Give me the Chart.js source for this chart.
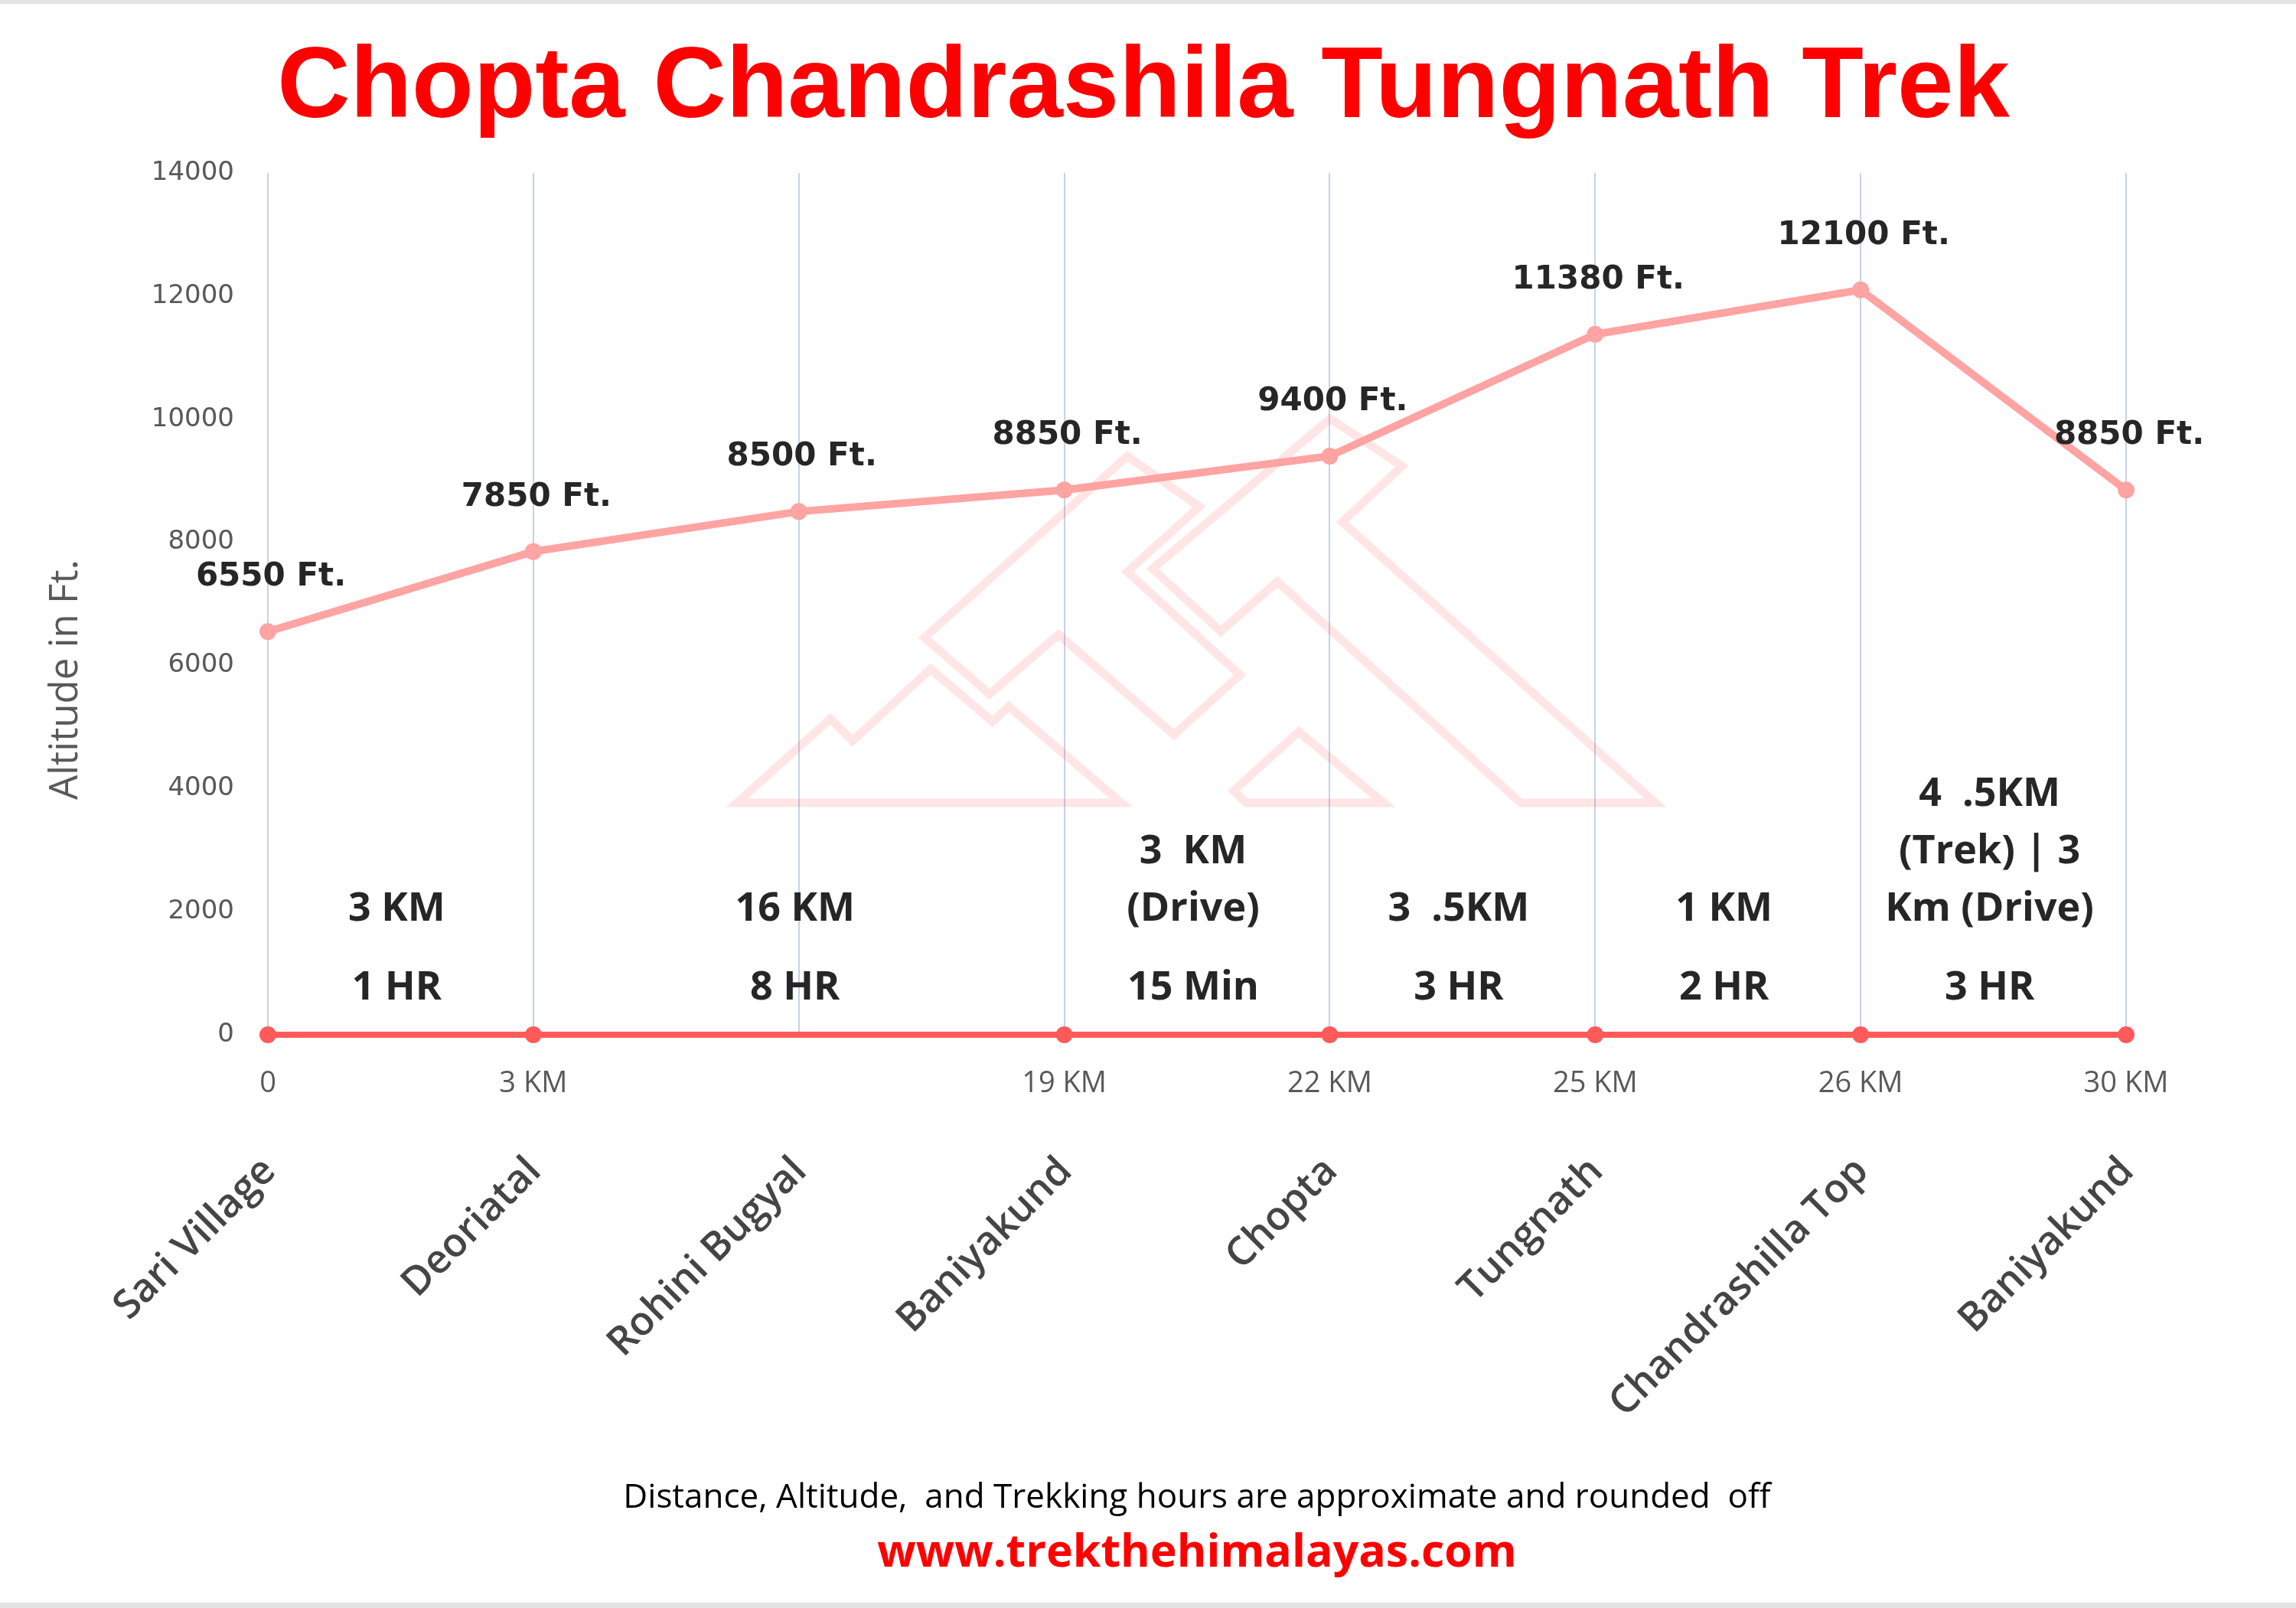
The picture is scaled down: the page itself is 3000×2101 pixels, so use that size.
<!DOCTYPE html>
<html>
<head>
<meta charset="utf-8">
<title>Chopta Chandrashila Tungnath Trek</title>
<script src="https://cdn.jsdelivr.net/npm/chart.js@4.4.1/dist/chart.umd.min.js"></script>
<style>
  html, body { margin: 0; padding: 0; background: #fff; }
  canvas { display: block; }
</style>
</head>
<body>
<canvas id="trekChart" width="3000" height="2101"></canvas>
<script>
// stops along the trek
const places = ['Sari Village', 'Deoriatal', 'Rohini Bugyal', 'Baniyakund', 'Chopta', 'Tungnath', 'Chandrashilla Top', 'Baniyakund'];
const distances = ['0', '3 KM', '', '19 KM', '22 KM', '25 KM', '26 KM', '30 KM'];
const altitudes = [6550, 7850, 8500, 8850, 9400, 11380, 12100, 8850];
const baseline = [0, 0, 0, 0, 0, 0, 0, 0];
const baselineStop = [true, true, false, true, true, true, true, true];

// y axis
const yMin = 0;
const yMax = 14000;
const yStep = 2000;

// notes written between two stops
const segmentFrom = [0, 1, 3, 4, 5, 6];
const segmentTo = [1, 3, 4, 5, 6, 7];
const segmentNotes = [
    ['3 KM', '1 HR'],
    ['16 KM', '8 HR'],
    ['3  KM', '(Drive)', '15 Min'],
    ['3  .5KM', '3 HR'],
    ['1 KM', '2 HR'],
    ['4  .5KM', '(Trek) | 3', 'Km (Drive)', '3 HR']
];

const chartTitle = 'Chopta Chandrashila Tungnath Trek';
const yTitle = 'Altitude in Ft.';
const footNote = 'Distance, Altitude,  and Trekking hours are approximate and rounded  off';
const siteUrl = 'www.trekthehimalayas.com';

// faded mountain logo behind the lines
const logoShapes = [
    [[963, 1049], [1085, 939], [1114, 968], [1216, 874], [1297, 943], [1318, 923], [1465, 1049]],
    [[1208, 833], [1473, 596], [1567, 662], [1473, 747], [1620, 882], [1534, 960], [1383, 829], [1293, 907]],
    [[1506, 743], [1738, 547], [1832, 609], [1754, 682], [2163, 1049], [1987, 1049], [1669, 760], [1595, 825]],
    [[1612, 1033], [1697, 956], [1808, 1049], [1628, 1049]]
];

const trekDecor = {
    id: 'trekDecor',
    beforeDraw(chart) {
        const ctx = chart.ctx;
        ctx.save();
        ctx.fillStyle = '#ffffff';
        ctx.fillRect(0, 0, chart.width, chart.height);
        ctx.fillStyle = '#e3e3e3';
        ctx.fillRect(0, 0, chart.width, 5);
        ctx.fillRect(0, chart.height - 7, chart.width, 7);
        ctx.restore();
    },
    beforeDatasetsDraw(chart) {
        const ctx = chart.ctx;
        ctx.save();
        ctx.strokeStyle = 'rgba(255, 40, 40, 0.12)';
        ctx.lineWidth = 11;
        ctx.lineJoin = 'miter';
        logoShapes.forEach(shape => {
            ctx.beginPath();
            shape.forEach((p, i) => i === 0 ? ctx.moveTo(p[0], p[1]) : ctx.lineTo(p[0], p[1]));
            ctx.closePath();
            ctx.stroke();
        });
        ctx.restore();
    },
    afterDatasetsDraw(chart) {
        const ctx = chart.ctx;
        const area = chart.chartArea;
        const xScale = chart.scales.x;
        ctx.save();

        // altitude labels above the points
        ctx.fillStyle = '#262626';
        ctx.font = 'bold 42px "DejaVu Sans"';
        ctx.textAlign = 'center';
        ctx.textBaseline = 'middle';
        chart.getDatasetMeta(0).data.forEach((pt, i) => {
            ctx.fillText(altitudes[i] + ' Ft.', pt.x + 4, pt.y - 71);
        });

        // distance / time notes for each leg
        ctx.font = 'bold 52px "Open Sans"';
        const lastY = area.bottom - 61;
        segmentNotes.forEach((lines, s) => {
            const x = (xScale.getPixelForValue(segmentFrom[s]) + xScale.getPixelForValue(segmentTo[s])) / 2 - 5;
            const n = lines.length;
            lines.forEach((line, i) => {
                const y = i === n - 1 ? lastY : lastY - 103 - 75 * (n - 2 - i);
                ctx.fillText(line, x, y);
            });
        });

        // title
        ctx.fillStyle = '#ff0000';
        ctx.font = 'bold 132px "Liberation Sans"';
        ctx.textBaseline = 'alphabetic';
        ctx.fillText(chartTitle, 1494, 153);

        // y axis title
        ctx.save();
        ctx.translate(86, 888);
        ctx.rotate(-Math.PI / 2);
        ctx.fillStyle = '#595959';
        ctx.font = '51px "Open Sans"';
        ctx.textBaseline = 'middle';
        ctx.fillText(yTitle, 0, 0);
        ctx.restore();

        // footer
        const cx = (area.left + area.right) / 2;
        ctx.textBaseline = 'middle';
        ctx.fillStyle = '#000000';
        ctx.font = '44px "Open Sans"';
        ctx.fillText(footNote, cx, 1957);
        ctx.fillStyle = '#ff0000';
        ctx.font = 'bold 59px "Open Sans"';
        ctx.fillText(siteUrl, cx, 2030);

        ctx.restore();
    }
};

const ctx = document.getElementById('trekChart').getContext('2d');
const trekChart = new Chart(ctx, {
    type: 'line',
    data: {
        labels: distances,
        datasets: [{
            label: 'Altitude',
            data: altitudes,
            borderColor: '#ffa3a3',
            backgroundColor: '#ffa3a3',
            borderWidth: 10,
            pointRadius: 11,
            pointBorderWidth: 0,
            pointBackgroundColor: '#ffa3a3',
            tension: 0,
            clip: false
        }, {
            label: 'Route',
            data: baseline,
            borderColor: '#ff5a5a',
            backgroundColor: '#ff5a5a',
            borderWidth: 8,
            pointRadius: baselineStop.map(s => s ? 11 : 0),
            pointBorderWidth: 0,
            pointBackgroundColor: '#ff5a5a',
            tension: 0,
            clip: false
        }]
    },
    options: {
        responsive: false,
        devicePixelRatio: 1,
        animation: false,
        layout: {
            padding: { left: 0, right: 222, top: 226, bottom: 239 }
        },
        plugins: {
            legend: { display: false },
            title: { display: false },
            tooltip: { enabled: false }
        },
        scales: {
            y: {
                min: yMin,
                max: yMax,
                ticks: {
                    stepSize: yStep,
                    color: '#595959',
                    font: { family: 'DejaVu Sans', size: 34 },
                    padding: 44,
                    callback: v => String(v)
                },
                grid: { display: false, drawTicks: false },
                border: { display: false },
                afterFit(scale) { scale.width = 350; }
            },
            x: {
                weight: 0,
                offset: false,
                ticks: {
                    color: '#595959',
                    font: { family: 'Open Sans', size: 38 },
                    padding: 41,
                    autoSkip: false,
                    maxRotation: 0
                },
                grid: { display: true, color: '#c3d2ea', lineWidth: 2, drawTicks: false },
                border: { display: false },
                afterFit(scale) { scale.height = 110; }
            },
            x2: {
                type: 'category',
                position: 'bottom',
                weight: 1,
                offset: false,
                labels: places,
                ticks: {
                    color: '#454545',
                    font: { family: 'Open Sans', size: 52, weight: '600' },
                    padding: 38,
                    labelOffset: 2,
                    autoSkip: false,
                    minRotation: 45,
                    maxRotation: 45
                },
                grid: { display: false, drawTicks: false },
                border: { display: false },
                afterFit(scale) { scale.height = 400; }
            }
        }
    },
    plugins: [trekDecor]
});
</script>
</body>
</html>
